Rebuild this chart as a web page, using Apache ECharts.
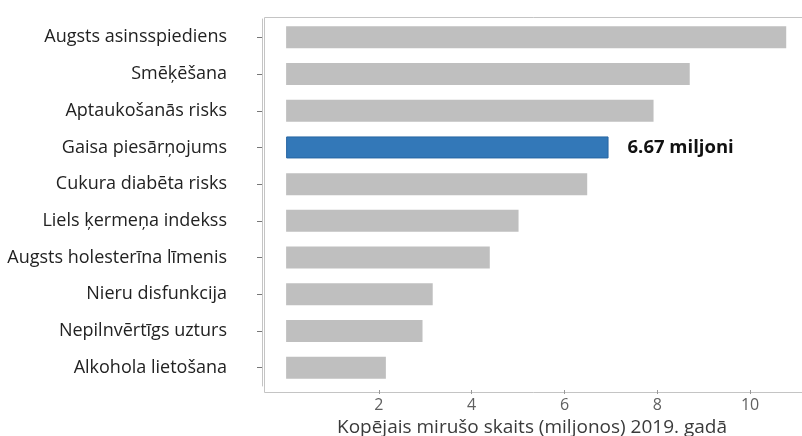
<!DOCTYPE html>
<html>
<head>
<meta charset="utf-8">
<title>Riska faktori</title>
<script src="https://cdn.jsdelivr.net/npm/echarts@6/dist/echarts.min.js"></script>
<style>
  html, body { margin: 0; padding: 0; background: #ffffff; }
  #chart { width: 802px; height: 436px; }
</style>
</head>
<body>
<div id="chart"></div>
<script>
// Risk factors, top to bottom
const riskFactors = [
    "Augsts asinsspiediens",
    "Smēķēšana",
    "Aptaukošanās risks",
    "Gaisa piesārņojums",
    "Cukura diabēta risks",
    "Liels ķermeņa indekss",
    "Augsts holesterīna līmenis",
    "Nieru disfunkcija",
    "Nepilnvērtīgs uzturs",
    "Alkohola lietošana"
];
// Deaths in millions
const deaths = [10.78, 8.70, 7.92, 6.95, 6.49, 5.01, 4.39, 3.16, 2.94, 2.15];
const highlighted = "Gaisa piesārņojums";
const highlightLabel = "6.67 miljoni";
const xTicks = [2, 4, 6, 8, 10];
const xAxisTitle = "Kopējais mirušo skaits (miljonos) 2019. gadā";

const chart = echarts.init(document.getElementById("chart"));

const seriesData = deaths.map((v, i) => {
    if (riskFactors[i] !== highlighted) return v;
    return {
        value: v,
        itemStyle: { color: "#3378b8", borderColor: "#2766a3", borderWidth: 1 },
        label: {
            show: true,
            position: "right",
            distance: 19,
            formatter: () => highlightLabel,
            color: "#111",
            fontSize: 18.5,
            fontWeight: "bold",
            fontFamily: "Open Sans"
        }
    };
});

const option = {
    backgroundColor: "#ffffff",
    animation: false,
    textStyle: { fontFamily: "Open Sans" },
    grid: { left: 262, right: 0, top: 19, bottom: 50, outerBoundsMode: "none" },
    graphic: [
        {
            type: "rect",
            left: 262,
            top: 15,
            shape: { width: 560, height: 375 },
            style: { fill: "none", stroke: "#c4c4c4", lineWidth: 1 },
            silent: true,
            z: 0
        }
    ],
    xAxis: {
        type: "value",
        min: -0.52,
        max: 11.12,
        offset: 4,
        axisLine: { show: false },
        axisTick: {
            show: true,
            customValues: xTicks,
            length: 4,
            lineStyle: { color: "#999" }
        },
        axisLabel: {
            customValues: xTicks,
            color: "#606060",
            fontSize: 16,
            margin: 7
        },
        splitLine: { show: false },
        name: xAxisTitle,
        nameLocation: "middle",
        nameGap: 22,
        nameTextStyle: { color: "#3a3a3a", fontSize: 19 }
    },
    yAxis: {
        type: "category",
        inverse: true,
        data: riskFactors,
        axisLine: { show: true, onZero: false, lineStyle: { color: "#c4c4c4" } },
        axisTick: { show: true, alignWithLabel: true, length: 5, lineStyle: { color: "#777" } },
        axisLabel: { color: "#222", fontSize: 18, margin: 35 }
    },
    series: [
        {
            type: "bar",
            data: seriesData,
            barWidth: 22,
            itemStyle: { color: "#bfbfbf" }
        }
    ]
};

chart.setOption(option);
</script>
</body>
</html>
